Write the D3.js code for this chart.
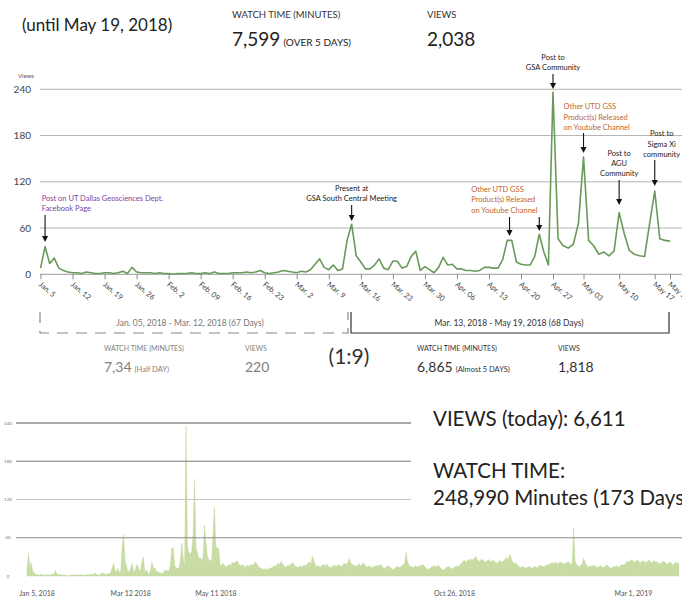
<!DOCTYPE html>
<html>
<head>
<meta charset="utf-8">
<script src="https://cdn.jsdelivr.net/npm/d3@7"></script>
<style>
  body { margin: 0; background: #fff; }
  svg { display: block; font-family: Lato, "Open Sans", sans-serif; }
</style>
</head>
<body>
<div id="chart"></div>
<script>
(function () {
  "use strict";

  // daily views, Jan 5 2018 - May 20 2018 (top chart)
  const viewsSpring = [
    8, 36, 14, 21, 8, 5, 3,
    2, 2, 1, 3, 2, 1, 1,
    2, 2, 1, 2, 4, 1, 9,
    3, 2, 2, 2, 1, 2, 1,
    1, 0, 1, 1, 1, 2, 1,
    1, 2, 1, 3, 1, 1, 1,
    2, 2, 2, 3, 2, 3, 5,
    2, 1, 2, 3, 5, 4, 3,
    2, 4, 3, 6, 13, 20, 9,
    6, 12, 5, 7, 44, 65, 24,
    16, 7, 7, 12, 20, 8, 6,
    17, 17, 8, 10, 23, 30, 5,
    10, 6, 2, 9, 22, 12, 13,
    7, 7, 5, 5, 4, 5, 9,
    9, 8, 8, 19, 44, 44, 16,
    13, 12, 12, 23, 52, 29, 12,
    236, 46, 37, 34, 39, 66, 152,
    44, 37, 26, 29, 24, 30, 80,
    53, 31, 26, 24, 23, 66, 108,
    46, 44, 43
  ];

  // daily views after that, May 21 2018 - Apr 8 2019 (bottom chart)
  const viewsLater = [
    18, 16, 20, 17, 14, 15, 18, 16, 19, 21,
    20, 22, 24, 19, 17, 16, 18, 15, 14, 17,
    16, 15, 18, 17, 19, 22, 18, 15, 13, 12,
    11, 10, 12, 9, 11, 13, 12, 14, 16, 15,
    18, 20, 17, 23, 19, 16, 14, 15, 17, 16,
    19, 21, 18, 15, 14, 13, 15, 16, 14, 17,
    16, 18, 20, 22, 19, 31, 24, 17, 15, 16,
    14, 15, 17, 18, 15, 19, 16, 14, 13, 15,
    17, 16, 15, 18, 17, 14, 16, 19, 20, 18,
    22, 27, 21, 18, 17, 16, 15, 17, 19, 16,
    18, 21, 17, 15, 14, 16, 15, 13, 14, 16,
    15, 17, 16, 18, 15, 13, 12, 14, 16, 15,
    13, 11, 10, 12, 14, 15, 13, 14, 16, 18,
    20, 37, 22, 17, 15, 14, 13, 15, 16, 14,
    15, 17, 16, 18, 15, 12, 10, 11, 12, 14,
    15, 16, 14, 15, 17, 13, 11, 9, 10, 13,
    14, 15, 13, 11, 12, 14, 15, 16, 14, 18,
    20, 22, 25, 21, 24, 26, 23, 27, 25, 28,
    31, 26, 24, 22, 27, 25, 23, 21, 24, 26,
    24, 22, 25, 23, 21, 20, 22, 24, 23, 21,
    25, 27, 29, 26, 34, 28, 22, 19, 21, 18,
    16, 14, 13, 15, 14, 12, 13, 14, 15, 13,
    12, 14, 15, 13, 14, 16, 17, 15, 14, 16,
    18, 17, 19, 20, 21, 18, 22, 20, 19, 21,
    22, 20, 18, 21, 19, 23, 20, 18, 22, 76,
    24, 18, 16, 15, 17, 19, 28, 21, 17, 15,
    14, 16, 15, 17, 16, 14, 13, 15, 16, 14,
    13, 15, 17, 16, 14, 12, 13, 15, 14, 16,
    15, 14, 16, 18, 17, 19, 21, 23, 22, 24,
    26, 23, 21, 24, 25, 22, 20, 23, 24, 22,
    21, 23, 25, 22, 20, 24, 23, 21, 22, 20,
    19, 21, 23, 22, 20, 18, 21, 22, 19, 17,
    20, 22, 19, 21
  ];

  const gridValues = [60, 120, 180, 240];

  const topTickDates = [
    "2018-01-05", "2018-01-12", "2018-01-19", "2018-01-26", "2018-02-02",
    "2018-02-09", "2018-02-16", "2018-02-23", "2018-03-02", "2018-03-09",
    "2018-03-16", "2018-03-23", "2018-03-30", "2018-04-06", "2018-04-13",
    "2018-04-20", "2018-04-27", "2018-05-03", "2018-05-10", "2018-05-17",
    "2018-05-20"
  ];
  const topTickLabels = [
    "Jan. 5", "Jan. 12", "Jan. 19", "Jan. 26", "Feb. 2",
    "Feb. 09", "Feb. 16", "Feb. 23", "Mar. 2", "Mar. 9",
    "Mar. 16", "Mar. 23", "Mar. 30", "Apr. 06", "Apr. 13",
    "Apr. 20", "Apr. 27", "May 03", "May 10", "May 17",
    "May 20"
  ];

  const bottomTickDates = ["2018-01-05", "2018-03-12", "2018-05-11", "2018-10-26", "2019-03-01"];
  const bottomTickLabels = ["Jan 5, 2018", "Mar 12 2018", "May 11 2018", "Oct 26, 2018", "Mar 1, 2019"];

  const notes = [
    { date: "2018-01-06", kind: "fb", lines: ["Post on UT Dallas Geosciences Dept.", "Facebook Page"] },
    { date: "2018-03-14", kind: "event", lines: ["Present at", "GSA South Central Meeting"] },
    { date: "2018-04-17", kind: "release", lines: ["Other UTD GSS", "Product(s) Released", "on Youtube Channel"] },
    { date: "2018-04-27", kind: "event", lines: ["Post to", "GSA Community"] },
    { date: "2018-05-03", kind: "release", lines: ["Other UTD GSS", "Product(s) Released", "on Youtube Channel"] },
    { date: "2018-05-10", kind: "event", lines: ["Post to", "AGU", "Community"] },
    { date: "2018-05-17", kind: "event", lines: ["Post to", "Sigma Xi", "community"] }
  ];

  const parse = d3.timeParse("%Y-%m-%d");
  const start = parse("2018-01-05");
  const spring = viewsSpring.map((v, i) => ({ date: d3.timeDay.offset(start, i), v }));
  const allDays = viewsSpring.concat(viewsLater).map((v, i) => ({ date: d3.timeDay.offset(start, i), v }));

  const W = 682, H = 599;
  const svg = d3.select("#chart").append("svg").attr("width", W).attr("height", H);

  // ---------- header ----------
  svg.append("text").attr("x", 22).attr("y", 31).attr("font-size", 17).attr("fill", "#222")
    .text("(until May 19, 2018)");
  svg.append("text").attr("x", 232).attr("y", 18).attr("font-size", 9.5).attr("fill", "#333")
    .text("WATCH TIME  (MINUTES)");
  const wt = svg.append("text").attr("x", 232).attr("y", 46).attr("fill", "#222");
  wt.append("tspan").attr("font-size", 19).text("7,599");
  wt.append("tspan").attr("font-size", 10).attr("dx", 3).text("(OVER 5 DAYS)");
  svg.append("text").attr("x", 427).attr("y", 18).attr("font-size", 9.5).attr("fill", "#333").text("VIEWS");
  svg.append("text").attr("x", 427).attr("y", 46).attr("font-size", 19).attr("fill", "#222").text("2,038");

  // ---------- top chart ----------
  const x1 = d3.scaleTime()
    .domain([start, parse("2018-04-27"), parse("2018-05-20")])
    .range([40.5, 553, 670]);
  const y1 = d3.scaleLinear().domain([0, 240]).range([274.3, 89.3]);

  svg.append("text").attr("x", 18).attr("y", 78).attr("font-size", 6).attr("fill", "#555").text("Views");

  svg.append("g").selectAll("line").data(gridValues).join("line")
    .attr("x1", 40).attr("x2", W)
    .attr("y1", d => y1(d)).attr("y2", d => y1(d))
    .attr("stroke", "#b3b3b3").attr("stroke-width", 1);

  svg.append("g").selectAll("text").data([0].concat(gridValues)).join("text")
    .attr("x", 31).attr("y", d => y1(d) + 3.5)
    .attr("text-anchor", "end").attr("font-size", 10).attr("fill", "#444")
    .text(d => d);

  svg.append("line").attr("x1", 40).attr("x2", W).attr("y1", y1(0)).attr("y2", y1(0))
    .attr("stroke", "#999").attr("stroke-width", 1);

  const xAxis = svg.append("g").attr("transform", `translate(0,${y1(0)})`)
    .call(d3.axisBottom(x1)
      .tickValues(topTickDates.map(parse))
      .tickFormat((d, i) => topTickLabels[i])
      .tickSize(5).tickSizeOuter(0));
  xAxis.select(".domain").remove();
  xAxis.selectAll(".tick line").attr("stroke", "#888");
  xAxis.selectAll(".tick text")
    .attr("x", 0).attr("y", 0).attr("dy", "0.35em")
    .attr("transform", "translate(-1,9) rotate(40)")
    .style("text-anchor", "start")
    .attr("font-family", "Lato, sans-serif")
    .attr("font-size", 7.5).attr("fill", "#444");

  const line = d3.line().x(d => x1(d.date)).y(d => y1(d.v));
  svg.append("path").datum(spring)
    .attr("d", line).attr("fill", "none")
    .attr("stroke", "#6a9a5b").attr("stroke-width", 1.6).attr("stroke-linejoin", "round");

  // annotations
  const noteColor = { fb: "#7b3f9c", release: "#c0652f", event: "#222" };
  const noteSpots = [
    { tx: -3.4, anchor: "start", ty: [201, 211], arrows: [[0, 215, 242]] },
    { tx: 0, anchor: "middle", ty: [191, 201], arrows: [[0, 205, 221]] },
    { tx: -36, anchor: "start", ty: [192, 202, 212.5], arrows: [[0.5, 217, 236], [7, 217, 231]] },
    { tx: 0, anchor: "middle", ty: [59.5, 70], arrows: [[0, 74, 89]] },
    { tx: -20, anchor: "start", ty: [109, 119.5, 129.5], arrows: [[0, 133, 153]] },
    { tx: 0, anchor: "middle", ty: [155.5, 166, 176], arrows: [[0, 180, 205]] },
    { tx: 7, anchor: "middle", ty: [136, 147, 157], arrows: [[0, 160, 186]] }
  ];

  const noteG = svg.append("g");
  notes.forEach((n, i) => {
    const spot = noteSpots[i];
    const d0 = parse(n.date);
    const nx = x1(d0);
    const t = noteG.append("text")
      .attr("text-anchor", spot.anchor)
      .attr("font-size", 7.5)
      .attr("fill", noteColor[n.kind]);
    n.lines.forEach((s, k) => {
      t.append("tspan").attr("x", nx + spot.tx).attr("y", spot.ty[k]).text(s);
    });
    spot.arrows.forEach(([dd, a, b]) => {
      const ax = x1(d3.timeHour.offset(d0, dd * 24));
      noteG.append("line").attr("x1", ax).attr("x2", ax).attr("y1", a).attr("y2", b - 4)
        .attr("stroke", "#111").attr("stroke-width", 1.1);
      noteG.append("path")
        .attr("d", `M${ax - 3},${b - 6}L${ax + 3},${b - 6}L${ax},${b}Z`)
        .attr("fill", "#111");
    });
  });

  // ---------- period brackets ----------
  svg.append("path").attr("d", "M40,312V333H348V312")
    .attr("fill", "none").attr("stroke", "#888").attr("stroke-width", 1.2)
    .attr("stroke-dasharray", "11,8");
  svg.append("path").attr("d", "M351,312V333H669V312")
    .attr("fill", "none").attr("stroke", "#333").attr("stroke-width", 1.2);
  svg.append("text").attr("x", 190).attr("y", 326).attr("text-anchor", "middle")
    .attr("font-size", 8.5).attr("fill", "#777").text("Jan. 05, 2018 - Mar. 12, 2018 (67 Days)");
  svg.append("text").attr("x", 509).attr("y", 326).attr("text-anchor", "middle")
    .attr("font-size", 8.5).attr("fill", "#333").text("Mar. 13, 2018 - May 19, 2018 (68 Days)");

  function statBlock(x, vx, value, note, views, color) {
    svg.append("text").attr("x", x).attr("y", 351).attr("font-size", 7).attr("fill", color)
      .text("WATCH TIME (MINUTES)");
    svg.append("text").attr("x", vx).attr("y", 351).attr("font-size", 7).attr("fill", color)
      .text("VIEWS");
    const t = svg.append("text").attr("x", x).attr("y", 372).attr("fill", color);
    t.append("tspan").attr("font-size", 14).text(value);
    t.append("tspan").attr("font-size", 7.5).attr("dx", 3).text(note);
    svg.append("text").attr("x", vx).attr("y", 372).attr("font-size", 14).attr("fill", color).text(views);
  }
  statBlock(104, 245, "7,34", "(Half DAY)", "220", "#808080");
  statBlock(417, 558, "6,865", "(Almost 5 DAYS)", "1,818", "#333");
  svg.append("text").attr("x", 349).attr("y", 364).attr("text-anchor", "middle")
    .attr("font-size", 21).attr("fill", "#333").text("(1:9)");

  // ---------- bottom chart ----------
  const x2 = d3.scaleTime().domain([start, parse("2019-03-01")]).range([27, 623.4]);
  const y2 = d3.scaleLinear().domain([0, 240]).range([576, 423]);

  const area = d3.area().x(d => x2(d.date)).y0(y2(0)).y1(d => y2(d.v));
  svg.append("path").datum(allDays).attr("d", area)
    .attr("fill", "#c8dca3").attr("stroke", "#bcd496").attr("stroke-width", 0.4);

  const gridColor = { 60: "#8a8a8a", 120: "#c4c4c4", 180: "#7a7a7a", 240: "#555" };
  svg.append("g").selectAll("line").data(gridValues).join("line")
    .attr("x1", 16).attr("x2", d => (d === 60 ? W : 411))
    .attr("y1", d => y2(d)).attr("y2", d => y2(d))
    .attr("stroke", d => gridColor[d]).attr("stroke-width", 1.2);

  svg.append("g").selectAll("text").data([0].concat(gridValues)).join("text")
    .attr("x", 8).attr("y", d => y2(d) + 1.5).attr("text-anchor", "middle")
    .attr("font-size", 4.5).attr("fill", "#777").text(d => d);

  svg.append("g").selectAll("text").data(bottomTickDates).join("text")
    .attr("x", d => x2(parse(d)) + 10).attr("y", 596)
    .attr("text-anchor", "middle").attr("font-size", 7).attr("fill", "#555")
    .text((d, i) => bottomTickLabels[i]);

  // big totals on the right
  svg.append("text").attr("x", 433).attr("y", 426).attr("font-size", 20.5).attr("fill", "#222")
    .text("VIEWS (today): 6,611");
  svg.append("text").attr("x", 433).attr("y", 478).attr("font-size", 20.5).attr("fill", "#222")
    .text("WATCH TIME:");
  svg.append("text").attr("x", 433).attr("y", 505).attr("font-size", 20.5).attr("fill", "#222")
    .text("248,990 Minutes (173 Days)");
})();
</script>
</body>
</html>
